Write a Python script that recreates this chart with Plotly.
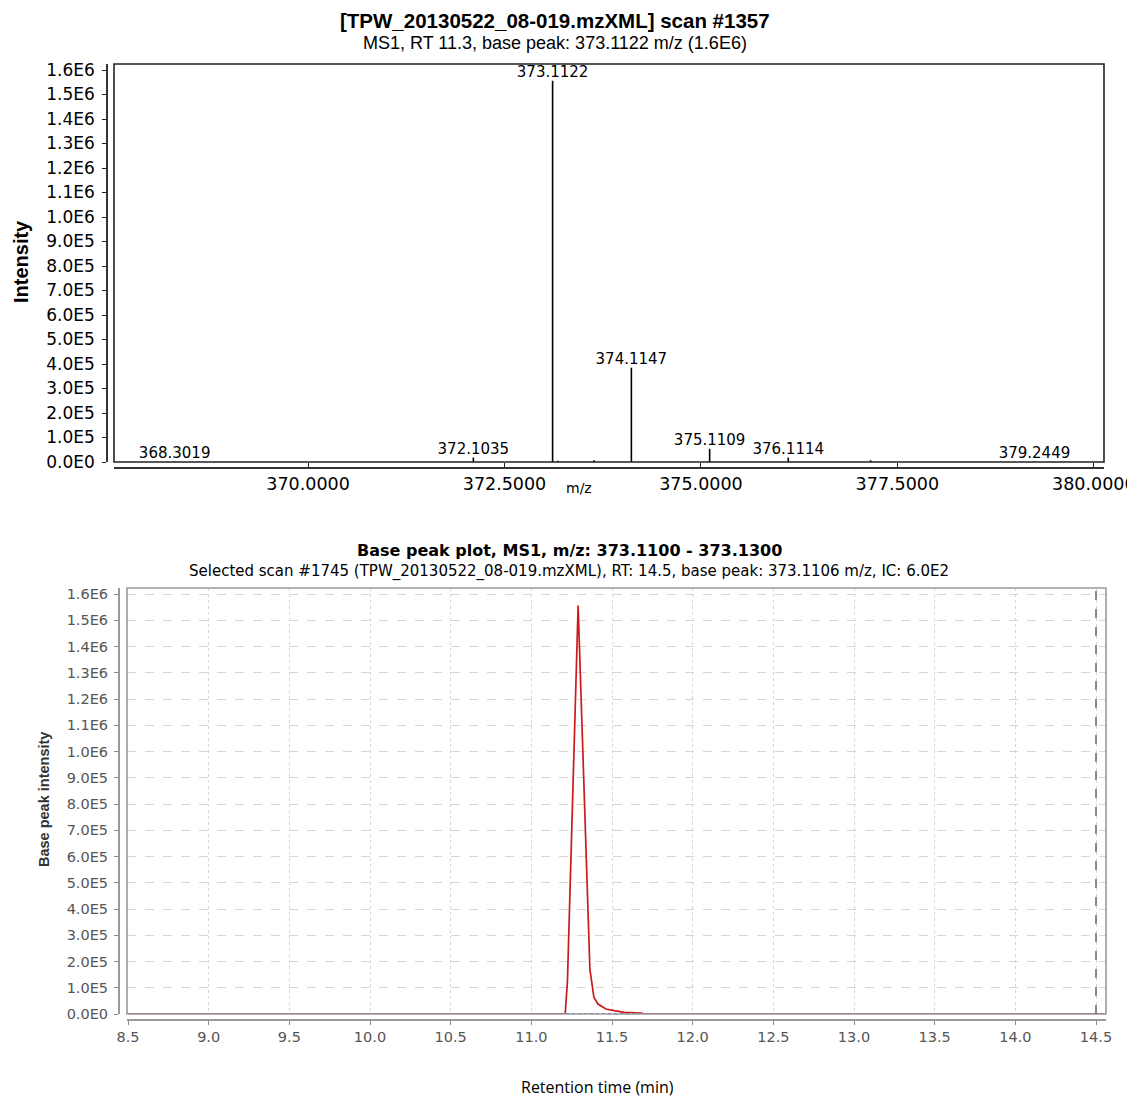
import plotly.graph_objects as go

# ---------------- data ----------------
# top: MS1 spectrum (labelled peaks)
peak_mz = [368.3019, 372.1035, 373.1122, 374.1147, 375.1109, 376.1114, 379.2449]
peak_int = [1500, 18000, 1556000, 385000, 54000, 18000, 1500]
# small unlabelled peaks
minor_mz = [373.18, 373.64, 377.16]
minor_int = [5000, 7000, 7000]

spec_yticks = [i * 1e5 for i in range(17)]
spec_yticktext = ["0.0E0", "1.0E5", "2.0E5", "3.0E5", "4.0E5", "5.0E5", "6.0E5", "7.0E5",
                  "8.0E5", "9.0E5", "1.0E6", "1.1E6", "1.2E6", "1.3E6", "1.4E6", "1.5E6", "1.6E6"]
spec_xticks = [370.0, 372.5, 375.0, 377.5, 380.0]
spec_xticktext = ["370.0000", "372.5000", "375.0000", "377.5000", "380.0000"]

# bottom: base peak chromatogram
rt = [8.5, 11.21, 11.224, 11.29, 11.363, 11.388, 11.413, 11.462, 11.514, 11.577, 11.68, 11.70, 14.56]
bp_int = [0, 0, 127000, 1556000, 170000, 63000, 38000, 19000, 12700, 6400, 3800, 0, 0]
other_rt = [8.5, 14.56]
other_int = [0, 0]
selected_rt = 14.5
chrom_xticks = [8.5, 9.0, 9.5, 10.0, 10.5, 11.0, 11.5, 12.0, 12.5, 13.0, 13.5, 14.0, 14.5]

# page body has an 8px margin; the figure fills the rest of the window
OFF = 8
W, H = 1135 - OFF, 1101 - OFF


def px(x):
    return (x - OFF) / W


def py(y):
    return 1 - (y - OFF) / H


# ---------------- figure ----------------
fig = go.Figure()

stick_x, stick_y = [], []
for m, v in zip(peak_mz + minor_mz, peak_int + minor_int):
    stick_x += [m, m, None]
    stick_y += [0, v, None]

fig.add_trace(go.Scatter(x=stick_x, y=stick_y, mode="lines",
                         line=dict(color="black", width=1.6),
                         xaxis="x", yaxis="y", hoverinfo="skip", showlegend=False))
fig.add_trace(go.Scatter(x=peak_mz, y=peak_int, mode="text",
                         text=[f"{m:.4f}" for m in peak_mz],
                         textposition="top center",
                         textfont=dict(family="DejaVu Sans", size=15, color="black"),
                         xaxis="x", yaxis="y", showlegend=False))

fig.add_trace(go.Scatter(x=other_rt, y=other_int, mode="lines",
                         line=dict(color="#2233bb", width=1.5, dash="dot"),
                         xaxis="x2", yaxis="y2", showlegend=False))
fig.add_trace(go.Scatter(x=rt, y=bp_int, mode="lines",
                         line=dict(color="#cc1a1a", width=1.7),
                         xaxis="x2", yaxis="y2", showlegend=False))

top_dom_x = [px(114), px(1104)]
top_dom_y = [py(462), py(64)]
bot_dom_x = [px(127), px(1106)]
bot_dom_y = [py(1014), py(588)]

fig.update_layout(
    width=W, height=H, autosize=False,
    margin=dict(l=0, r=0, t=0, b=0, pad=0),
    paper_bgcolor="white", plot_bgcolor="white",
    showlegend=False,
    xaxis=dict(domain=top_dom_x, range=[367.53, 380.13], anchor="free", position=py(468),
               automargin=False, ticklabeloverflow="allow",
               tickvals=spec_xticks, ticktext=spec_xticktext,
               ticks="inside", ticklen=4, tickcolor="#222",
               showline=True, linecolor="#333", linewidth=2,
               showgrid=False, zeroline=False,
               tickfont=dict(family="DejaVu Sans", size=17.5, color="black")),
    yaxis=dict(domain=top_dom_y, range=[0, 1.6245e6], anchor="free", position=px(107),
               automargin=False, ticklabeloverflow="allow",
               tickvals=spec_yticks, ticktext=spec_yticktext,
               ticks="outside", ticklen=4, tickcolor="#222", ticklabelstandoff=4,
               showline=True, linecolor="#333", linewidth=1.5,
               showgrid=False, zeroline=False,
               tickfont=dict(family="DejaVu Sans", size=17, color="black")),
    xaxis2=dict(domain=bot_dom_x, range=[8.4938, 14.562], anchor="free", position=py(1020),
                automargin=False, ticklabeloverflow="allow",
                tickvals=chrom_xticks, ticktext=[f"{v:.1f}" for v in chrom_xticks],
                ticks="outside", ticklen=4, tickcolor="#888",
                showline=True, linecolor="#999", linewidth=2,
                showgrid=True, gridcolor="#d6d6d6", griddash="dot", gridwidth=1,
                zeroline=False,
                tickfont=dict(family="DejaVu Sans", size=14.5, color="#555")),
    yaxis2=dict(domain=bot_dom_y, range=[0, 1.623e6], anchor="free", position=px(119),
                automargin=False, ticklabeloverflow="allow",
                tickvals=spec_yticks, ticktext=spec_yticktext,
                ticks="outside", ticklen=4, tickcolor="#888", ticklabelstandoff=3,
                showline=True, linecolor="#999", linewidth=2,
                showgrid=True, gridcolor="#d6d6d6", griddash="dash", gridwidth=1,
                zeroline=False,
                tickfont=dict(family="DejaVu Sans", size=14.5, color="#555")),
    shapes=[
        dict(type="rect", xref="paper", yref="paper",
             x0=top_dom_x[0], x1=top_dom_x[1], y0=top_dom_y[0], y1=top_dom_y[1],
             line=dict(color="#222", width=1.6)),
        dict(type="rect", xref="paper", yref="paper",
             x0=bot_dom_x[0], x1=bot_dom_x[1], y0=bot_dom_y[0], y1=bot_dom_y[1],
             line=dict(color="#9a9a9a", width=1.6)),
        dict(type="line", xref="x2", yref="paper",
             x0=selected_rt, x1=selected_rt, y0=bot_dom_y[0], y1=bot_dom_y[1],
             line=dict(color="#666", width=1.5, dash="dash")),
    ],
    annotations=[
        dict(text="<b>[TPW_20130522_08-019.mzXML] scan #1357</b>", x=px(555), y=1.0,
             xref="paper", yref="paper", showarrow=False, xanchor="center", yanchor="top",
             borderpad=0,
             font=dict(family="Liberation Sans", size=20.5, color="black")),
        dict(text="MS1, RT 11.3, base peak: 373.1122 m/z (1.6E6)", x=px(555), y=py(43),
             xref="paper", yref="paper", showarrow=False, xanchor="center", yanchor="middle",
             font=dict(family="Liberation Sans", size=18, color="black")),
        dict(text="<b>Intensity</b>", x=px(21), y=py(262), textangle=-90,
             xref="paper", yref="paper", showarrow=False, xanchor="center", yanchor="middle",
             font=dict(family="Liberation Sans", size=20, color="black")),
        dict(text="m/z", x=px(579), y=py(488),
             xref="paper", yref="paper", showarrow=False, xanchor="center", yanchor="middle",
             font=dict(family="DejaVu Sans", size=14, color="black")),
        dict(text="<b>Base peak plot, MS1, m/z: 373.1100 - 373.1300</b>", x=px(569), y=py(550),
             xref="paper", yref="paper", showarrow=False, xanchor="center", yanchor="middle",
             font=dict(family="DejaVu Sans", size=16, color="black")),
        dict(text="Selected scan #1745 (TPW_20130522_08-019.mzXML), RT: 14.5, base peak: 373.1106 m/z, IC: 6.0E2",
             x=px(569), y=py(571),
             xref="paper", yref="paper", showarrow=False, xanchor="center", yanchor="middle",
             font=dict(family="DejaVu Sans", size=15, color="black")),
        dict(text="<b>Base peak intensity</b>", x=px(44), y=py(800), textangle=-90,
             xref="paper", yref="paper", showarrow=False, xanchor="center", yanchor="middle",
             font=dict(family="Liberation Sans", size=14.5, color="#333")),
        dict(text="Retention time (min)", x=px(597), y=py(1087),
             xref="paper", yref="paper", showarrow=False, xanchor="center", yanchor="middle",
             font=dict(family="Open Sans", size=16, color="black")),
    ],
)

fig.write_html("out.html")
